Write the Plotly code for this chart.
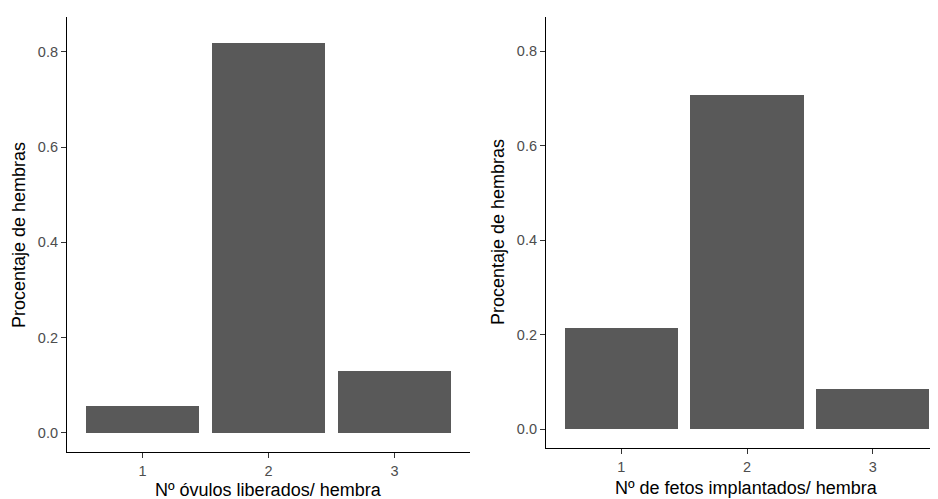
import plotly.graph_objects as go

categories = [1, 2, 3]
tick_labels = ["1", "2", "3"]
ovulos_values = [0.056, 0.818, 0.131]
fetos_values = [0.214, 0.707, 0.085]
y_ticks = [0.0, 0.2, 0.4, 0.6, 0.8]
y_tick_labels = ["0.0", "0.2", "0.4", "0.6", "0.8"]

y_title = "Procentaje de hembras"
x_title_left = "Nº óvulos liberados/ hembra"
x_title_right = "Nº de fetos implantados/ hembra"

W, H = 938, 499
OFF = 8  # page body margin offset
FONT = "Liberation Sans, Arial, sans-serif"
BAR = "#595959"


def px(x):
    return (x - OFF) / W


def py(y):
    return 1 - (y - OFF) / H


fig = go.Figure()
fig.add_trace(go.Bar(x=categories, y=ovulos_values, width=0.9, marker_color=BAR,
                     marker_line_width=0, xaxis="x", yaxis="y", showlegend=False))
fig.add_trace(go.Bar(x=categories, y=fetos_values, width=0.9, marker_color=BAR,
                     marker_line_width=0, xaxis="x2", yaxis="y2", showlegend=False))

common_x = dict(showline=True, linecolor="black", linewidth=1.2, ticks="outside",
                ticklen=5, tickcolor="#333333", tickwidth=1.2, showgrid=False,
                zeroline=False, tickvals=categories, ticktext=tick_labels,
                tickfont=dict(family=FONT, size=14.5, color="#4D4D4D"), fixedrange=True)
common_y = dict(showline=True, linecolor="black", linewidth=1.2, ticks="outside",
                ticklen=5, tickcolor="#333333", tickwidth=1.2, showgrid=False,
                zeroline=False, tickvals=y_ticks, ticktext=y_tick_labels,
                tickfont=dict(family=FONT, size=14.5, color="#4D4D4D"), fixedrange=True)

fig.update_layout(
    width=W, height=H,
    margin=dict(l=0, r=0, t=0, b=0),
    paper_bgcolor="white", plot_bgcolor="white",
    bargap=0,
    xaxis=dict(domain=[px(67), px(470)], range=[0.4, 3.6], anchor="y", **common_x),
    yaxis=dict(domain=[py(452), py(17)], range=[-0.04, 0.873], anchor="x", **common_y),
    xaxis2=dict(domain=[px(546), px(938)], range=[0.4, 3.52], anchor="y2", **common_x),
    yaxis2=dict(domain=[py(448), py(17)], range=[-0.0396, 0.8726], anchor="x2", **common_y),
    annotations=[
        dict(text=y_title, x=px(19), y=py(235), xref="paper", yref="paper",
             textangle=-90, showarrow=False, xanchor="center", yanchor="middle",
             font=dict(family=FONT, size=18, color="black")),
        dict(text=y_title, x=px(497.5), y=py(232.5), xref="paper", yref="paper",
             textangle=-90, showarrow=False, xanchor="center", yanchor="middle",
             font=dict(family=FONT, size=18, color="black")),
        dict(text=x_title_left, x=px(268), y=py(489.5), xref="paper", yref="paper",
             showarrow=False, xanchor="center", yanchor="middle",
             font=dict(family=FONT, size=18, color="black")),
        dict(text=x_title_right, x=px(746.7), y=py(487.5), xref="paper", yref="paper",
             showarrow=False, xanchor="center", yanchor="middle",
             font=dict(family=FONT, size=18, color="black")),
    ],
)

fig.write_html("out.html")
